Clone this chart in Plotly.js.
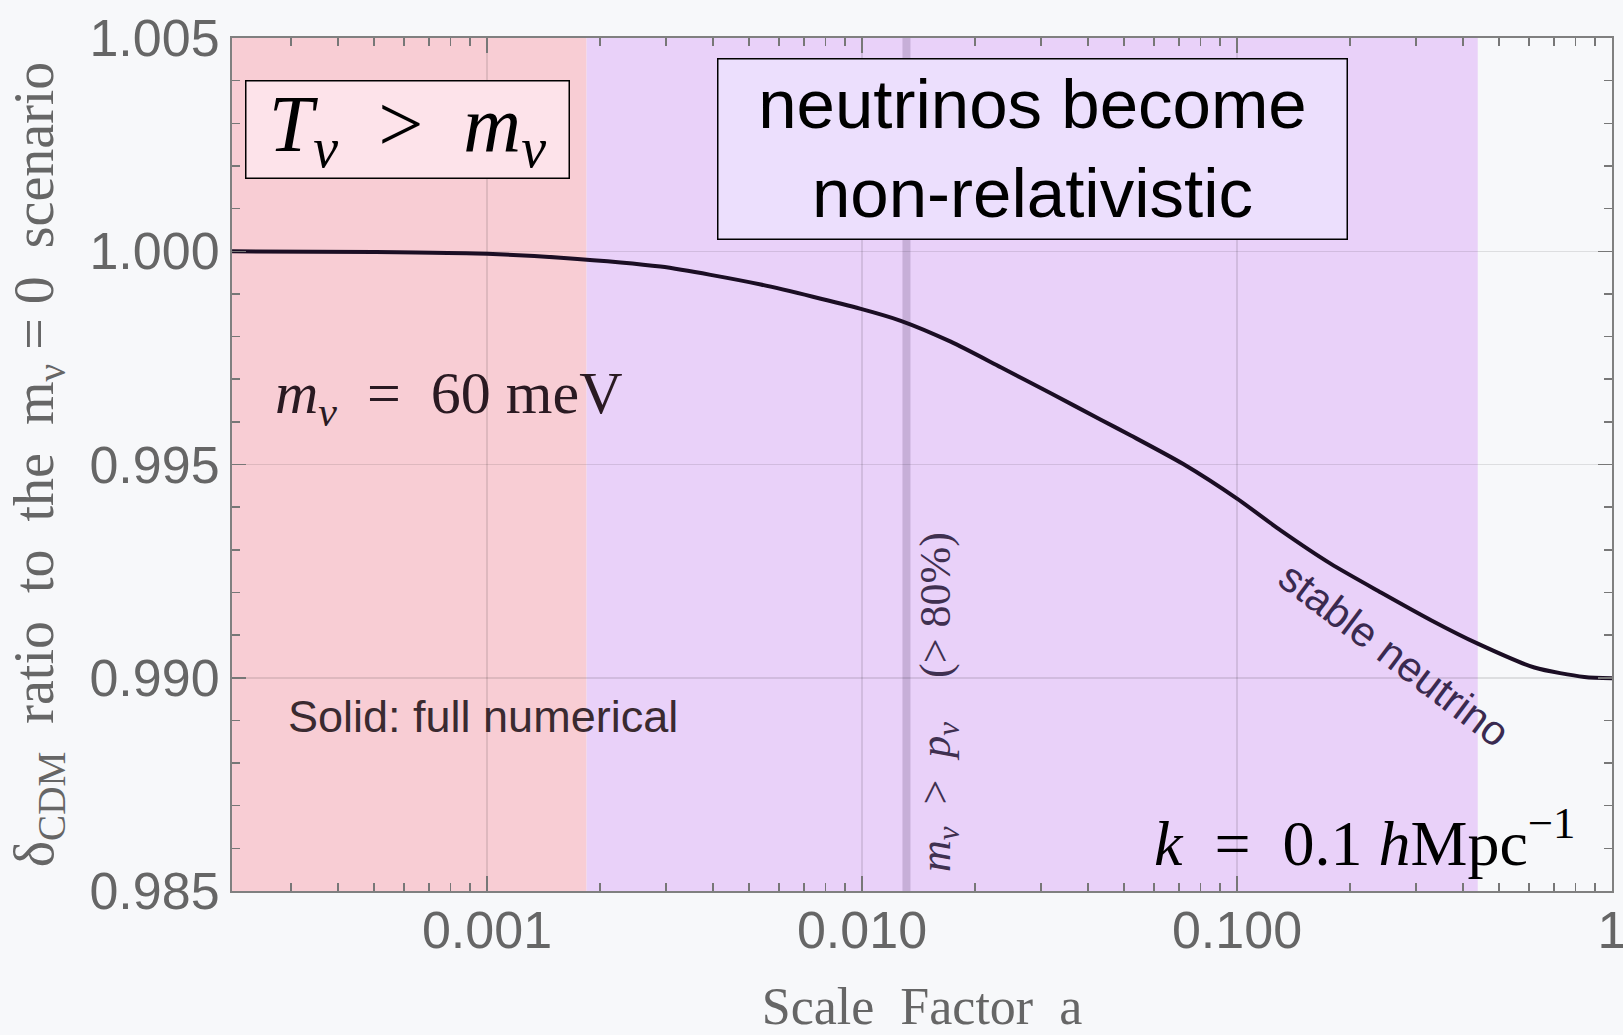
<!DOCTYPE html>
<html>
<head>
<meta charset="utf-8">
<script src="https://cdn.plot.ly/plotly-3.0.1.min.js"></script>
<style>html,body{margin:0;padding:0;background:#f7f8fa;}</style>
</head>
<body>
<div id="chart" style="width:1623px;height:1035px;"></div>
<script>
// ---- data ----
const scaleFactor = [2.09e-4, 5e-4, 0.001, 0.00157, 0.0029, 0.00537, 0.00993, 0.01269, 0.01724, 0.02344, 0.03187, 0.04333, 0.05212, 0.0719, 0.1, 0.131, 0.178, 0.242, 0.3292, 0.4385, 0.621, 0.844, 1.0];
const deltaRatio  = [1.00000, 0.99998, 0.99994, 0.99985, 0.99964, 0.99922, 0.99865, 0.99837, 0.99788, 0.99728, 0.99667, 0.99605, 0.99568, 0.99501, 0.99420, 0.99345, 0.99267, 0.99200, 0.99135, 0.99080, 0.99024, 0.99002, 0.98999];

const regionStart = [2.09e-4, 0.001843];   // T_nu > m_nu , non-relativistic transition
const regionEnd   = [0.001843, 0.4385];
const regionColor = ['#f8cdd4', '#e9d1f9'];
const markerA = [0.01314];                  // m_nu > p_nu (>80%)

const xTickVals = [0.001, 0.01, 0.1, 1];
const xTickText = ['0.001', '0.010', '0.100', '1'];
const xMinorVals = [3e-4,4e-4,5e-4,6e-4,7e-4,8e-4,9e-4,
                    0.002,0.003,0.004,0.005,0.006,0.007,0.008,0.009,
                    0.02,0.03,0.04,0.05,0.06,0.07,0.08,0.09,
                    0.2,0.3,0.4,0.5,0.6,0.7,0.8,0.9];
const yTickVals = [0.985, 0.990, 0.995, 1.000, 1.005];
const xRangeLog = [-3.68, 0];
const yRange = [0.985, 1.005];

const SERIF = 'Liberation Serif, Times New Roman, serif';
const SANS = 'Liberation Sans, Arial, Helvetica, sans-serif';
const NB = '\u00a0';

const shapes = [];
for (let i = 0; i < regionStart.length; i++) {
  shapes.push({type:'rect', xref:'x', yref:'paper', x0:regionStart[i], x1:regionEnd[i], y0:0, y1:1,
    fillcolor:regionColor[i], line:{width:0}, layer:'below'});
}
markerA.forEach(v => shapes.push({type:'line', xref:'x', yref:'paper', x0:v, x1:v, y0:0, y1:1,
  line:{color:'#c7afd8', width:8}, layer:'below'}));

const traces = [{
  x: scaleFactor, y: deltaRatio, type:'scatter', mode:'lines',
  line:{color:'#1b0e24', width:4, shape:'spline', smoothing:0.7},
  hoverinfo:'x+y', showlegend:false
}];

const annotations = [
  {xref:'paper', yref:'paper', x:0.1272, y:0.8933, xanchor:'center', yanchor:'middle', showarrow:false,
   text:'<i>T</i><sub><i>ν</i></sub>' + NB + NB + '>' + NB + NB + '<i>m</i><sub><i>ν</i></sub>',
   font:{family:SERIF, size:80, color:'#000'}, bgcolor:'#fde3ea', bordercolor:'#000', borderwidth:1.5,
   width:322, height:96, borderpad:0},
  {xref:'paper', yref:'paper', x:0.5801, y:0.8693, xanchor:'center', yanchor:'middle', showarrow:false,
   text:'neutrinos become<br>non-relativistic',
   font:{family:SANS, size:69, color:'#000'}, bgcolor:'#ecdffd', bordercolor:'#000', borderwidth:1.5,
   width:628, height:179, borderpad:0},
  {xref:'paper', yref:'paper', x:0.1572, y:0.578, xanchor:'center', yanchor:'middle', showarrow:false,
   text:'<i>m</i><sub><i>ν</i></sub>' + NB + NB + '=' + NB + NB + '60' + NB + 'meV',
   font:{family:SERIF, size:60, color:'#2a1a22'}},
  {xref:'paper', yref:'paper', x:0.1819, y:0.204, xanchor:'center', yanchor:'middle', showarrow:false,
   text:'Solid: full numerical',
   font:{family:SANS, size:45, color:'#3a2a30'}},
  {xref:'paper', yref:'paper', x:0.5115, y:0.2215, xanchor:'center', yanchor:'middle', showarrow:false,
   textangle:-90,
   text:'<i>m</i><sub><i>ν</i></sub>' + NB + NB + '>' + NB + NB + '<i>p</i><sub><i>ν</i></sub>' + NB + NB + NB + NB + '(>' + NB + '80%)',
   font:{family:SERIF, size:44, color:'#3f3050'}},
  {xref:'paper', yref:'paper', x:0.8424, y:0.2778, xanchor:'center', yanchor:'middle', showarrow:false,
   textangle:37, text:'stable neutrino',
   font:{family:SANS, size:42, color:'#3a2a50'}},
  {xref:'paper', yref:'paper', x:0.8203, y:0.062, xanchor:'center', yanchor:'middle', showarrow:false,
   text:'<i>k</i>' + NB + NB + '=' + NB + NB + '0.1' + NB + '<i>h</i>Mpc<sup>−1</sup>',
   font:{family:SERIF, size:64, color:'#000'}}
];

const axisCommon = {
  ticks:'inside', tickcolor:'#777', tickwidth:1.5,
  showline:true, linecolor:'#808080', linewidth:2, mirror:'allticks',
  showgrid:true, gridcolor:'rgba(0,0,0,0.1)', gridwidth:1.5, zeroline:false,
  ticklabeloverflow:'allow',
  tickfont:{family:SANS, size:52, color:'#666'}
};

const layout = {
  width:1623, height:1035,
  paper_bgcolor:'#f7f8fa', plot_bgcolor:'#f7f8fa',
  margin:{l:232, r:11, t:38, b:144},
  showlegend:false,
  xaxis: Object.assign({}, axisCommon, {
    type:'log', range:xRangeLog, tickmode:'array', tickvals:xTickVals, ticktext:xTickText, ticklen:15,
    ticklabelstandoff:-7,
    minor:{tickmode:'array', tickvals:xMinorVals, ticklen:8, tickcolor:'#777', tickwidth:1.5, ticks:'inside', showgrid:false},
    title:{text:'Scale' + NB + NB + 'Factor' + NB + NB + 'a', font:{family:SERIF, size:52, color:'#666'}, standoff:30}
  }),
  yaxis: Object.assign({}, axisCommon, {
    range:yRange, tickmode:'array', tickvals:yTickVals, tickformat:'.3f', ticklen:14,
    minor:{dtick:0.001, ticklen:8, tickcolor:'#777', tickwidth:1.5, ticks:'inside', showgrid:false},
    title:{text:'δ<sub>CDM</sub>' + NB + NB + 'ratio' + NB + ' to' + NB + ' the' + NB + ' m<sub>ν</sub>' + NB + '=' + NB + '0' + NB + ' scenario',
      font:{family:SERIF, size:56, color:'#666'}, standoff:18}
  }),
  shapes:shapes,
  annotations:annotations
};

Plotly.newPlot('chart', traces, layout, {displayModeBar:false, staticPlot:true});
</script>
</body>
</html>
